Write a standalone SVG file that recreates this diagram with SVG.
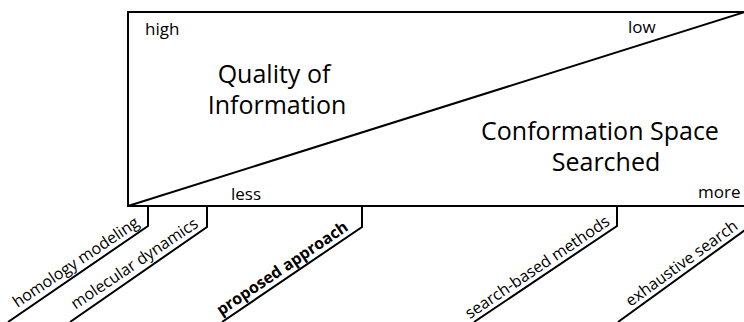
<svg xmlns="http://www.w3.org/2000/svg" width="744" height="322" viewBox="0 0 744 322">
<style>
.ln{fill:none;stroke:#000;stroke-width:2;stroke-linejoin:miter}
.sm{font-family:"Open Sans","Liberation Sans",sans-serif;font-size:17px;fill:#000}
.big{font-family:"Open Sans","Liberation Sans",sans-serif;font-size:25px;fill:#000;text-anchor:middle}
.lab{font-family:"Open Sans","Liberation Sans",sans-serif;font-size:16px;fill:#000;text-anchor:end}
</style>
<rect width="744" height="322" fill="#fff"/>
<g id="chart">
<path class="ln" d="M745,12 H128 V206 H745 M128,206 L745,12"/>
<text class="sm" x="145" y="35">high</text>
<text class="sm" x="628" y="33">low</text>
<text class="sm" x="231" y="200">less</text>
<text class="sm" x="698" y="198">more</text>
<text class="big" x="274" y="83">Quality of</text>
<text class="big" x="277" y="114">Information</text>
<text class="big" x="600" y="140">Conformation Space</text>
<text class="big" x="606" y="171">Searched</text>
</g>
<g id="connectors">
<path class="ln" d="M148,206 V226 L8,322"/>
<path class="ln" d="M207,206 V227 L70,322"/>
<path class="ln" d="M362,206 V227 L222,322"/>
<path class="ln" d="M617,206 V226 L474,322"/>
<path class="ln" d="M745,230 L618,322"/>
</g>
<g id="homology"><text class="lab" transform="translate(148,226) rotate(-34)" x="-6" y="-5">homology modeling</text></g>
<g id="molecular"><text class="lab" transform="translate(207,227) rotate(-34)" x="-6" y="-5">molecular dynamics</text></g>
<g id="proposed"><text class="lab" transform="translate(362,227) rotate(-34)" x="-12" y="-5" font-weight="bold">proposed approach</text></g>
<g id="search"><text class="lab" transform="translate(617,226) rotate(-34)" x="-4" y="-5" font-size="15">search-based methods</text></g>
<g id="exhaustive"><text class="lab" transform="translate(745,230) rotate(-36)" x="-4" y="-5">exhaustive search</text></g>
</svg>
